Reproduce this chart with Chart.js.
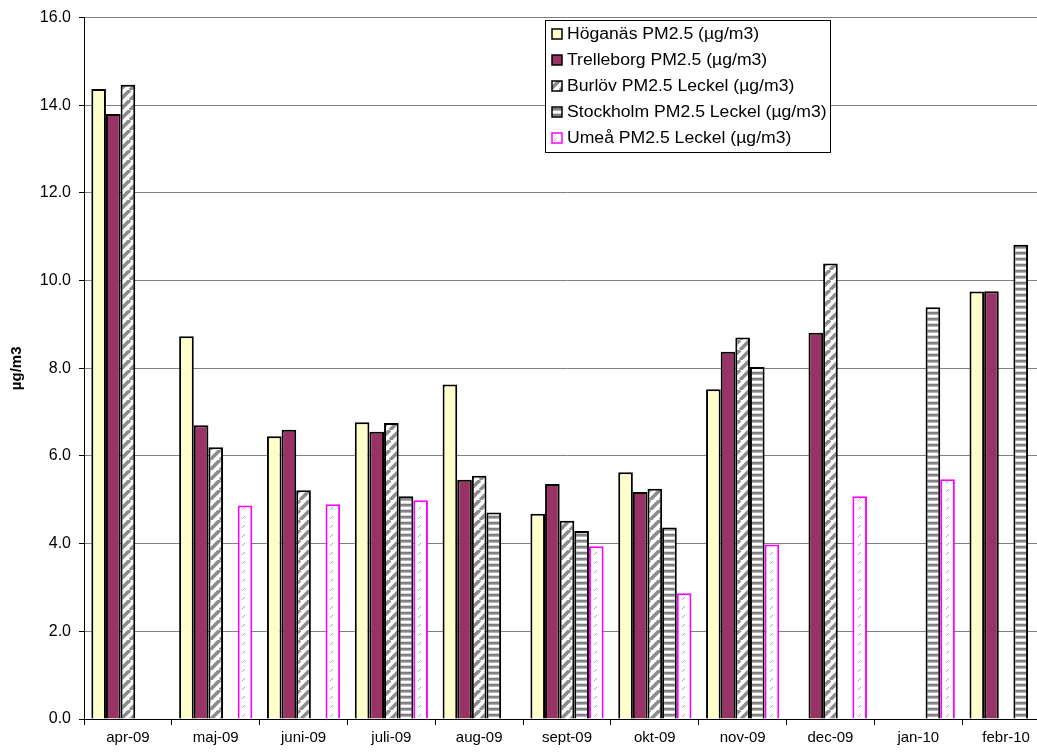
<!DOCTYPE html>
<html>
<head>
<meta charset="utf-8">
<script src="https://cdn.jsdelivr.net/npm/chart.js@4/dist/chart.umd.min.js"></script>
<style>
  html, body { margin: 0; padding: 0; background: #fff; overflow: hidden; }
  #wrap { width: 1060px; height: 755px; }
</style>
</head>
<body>
<div id="wrap"><canvas id="c" width="1060" height="755"></canvas></div>
<script>
const categories = ['apr-09','maj-09','juni-09','juli-09','aug-09','sept-09','okt-09','nov-09','dec-09','jan-10','febr-10'];
const hoganas    = [14.37, 8.73, 6.45, 6.77, 7.63, 4.68, 5.63, 7.52, null, null, 9.75];
const trelleborg = [13.80, 6.70, 6.60, 6.55, 5.46, 5.36, 5.18, 8.38, 8.81, null, 9.76];
const burlov     = [14.47, 6.20, 5.22, 6.75, 5.55, 4.52, 5.25, 8.70, 10.39, null, null];
const stockholm  = [null, null, null, 5.08, 4.71, 4.29, 4.37, 8.03, null, 9.39, 10.82];
const umea       = [null, 4.87, 4.90, 4.99, null, 3.94, 2.87, 3.98, 5.08, 5.47, null];
const seriesLabels = [
  'Höganäs PM2.5 (µg/m3)',
  'Trelleborg PM2.5 (µg/m3)',
  'Burlöv PM2.5 Leckel (µg/m3)',
  'Stockholm PM2.5 Leckel (µg/m3)',
  'Umeå PM2.5 Leckel (µg/m3)'
];
const yTicks = [0, 2, 4, 6, 8, 10, 12, 14, 16];

function diagPattern() {
  const s = 10;
  const c = document.createElement('canvas'); c.width = s; c.height = s;
  const g = c.getContext('2d');
  g.fillStyle = '#ffffff'; g.fillRect(0, 0, s, s);
  g.strokeStyle = '#8c8c8c'; g.lineWidth = 3.6;
  for (const o of [-s, 0, s]) {
    g.beginPath(); g.moveTo(o, s); g.lineTo(o + s, 0); g.stroke();
  }
  return g.createPattern(c, 'repeat');
}
function horizPattern() {
  const c = document.createElement('canvas'); c.width = 4; c.height = 6;
  const g = c.getContext('2d');
  const rows = ['#7a7a7a', '#8a8a8a', '#b0b0b0', '#ffffff', '#ffffff', '#d8d8d8'];
  rows.forEach((col, i) => { g.fillStyle = col; g.fillRect(0, i, 4, 1); });
  return g.createPattern(c, 'repeat');
}
function dashPattern() {
  const c = document.createElement('canvas'); c.width = 8; c.height = 9;
  const g = c.getContext('2d');
  g.fillStyle = '#ffffff'; g.fillRect(0, 0, 8, 9);
  g.strokeStyle = '#a8a8a8'; g.lineWidth = 1;
  g.beginPath(); g.moveTo(2, 6); g.lineTo(5, 3); g.stroke();
  return g.createPattern(c, 'repeat');
}

const fills = ['#FFFFCC', '#993366', diagPattern(), horizPattern(), dashPattern()];
const borders = ['#000000', '#000000', '#000000', '#000000', '#FF00FF'];
const seriesData = [hoganas, trelleborg, burlov, stockholm, umea];

const datasets = seriesData.map((d, i) => ({
  label: seriesLabels[i],
  data: d,
  backgroundColor: fills[i],
  borderColor: borders[i],
  borderWidth: 2,
  categoryPercentage: 5 / 6,
  barPercentage: 1.0
}));

const legendPlugin = {
  id: 'boxLegend',
  afterDraw(chart) {
    const ctx = chart.ctx;
    ctx.save();
    const x = 545.5, y = 20.5, w = 285, h = 132;
    ctx.fillStyle = '#fff';
    ctx.fillRect(x, y, w, h);
    ctx.strokeStyle = '#000'; ctx.lineWidth = 1;
    ctx.strokeRect(x, y, w, h);
    ctx.font = '16px "Liberation Sans", Arial, sans-serif';
    ctx.textBaseline = 'middle';
    ctx.textAlign = 'left';
    chart.data.datasets.forEach((ds, i) => {
      const cy = 34 + i * 26;
      ctx.fillStyle = ds.backgroundColor;
      ctx.fillRect(552, cy - 5, 10, 10);
      ctx.strokeStyle = ds.borderColor; ctx.lineWidth = 1.5;
      ctx.strokeRect(552, cy - 5, 10, 10);
      ctx.fillStyle = '#000';
      ctx.save();
      ctx.translate(567, cy + 1);
      ctx.scale(1.1, 1);
      ctx.fillText(ds.label, 0, 0);
      ctx.restore();
    });
    ctx.restore();
  }
};

new Chart(document.getElementById('c'), {
  type: 'bar',
  data: { labels: categories, datasets },
  plugins: [legendPlugin],
  options: {
    responsive: false,
    animation: false,
    devicePixelRatio: 1,
    layout: { padding: { top: 16, right: 10, bottom: 0, left: 0 } },
    plugins: { legend: { display: false }, tooltip: { enabled: false } },
    scales: {
      x: {
        offset: true,
        grid: { display: true, offset: true, drawOnChartArea: false, color: '#000', tickColor: '#000', tickLength: 6 },
        border: { display: true, color: '#000', width: 1 },
        ticks: { color: '#000', padding: 4, maxRotation: 0, autoSkip: false,
                 font: { family: '"Liberation Sans", Arial, sans-serif', size: 15 } },
        afterFit(scale) { scale.height = 36; }
      },
      y: {
        min: 0, max: 16,
        afterBuildTicks(scale) { scale.ticks = yTicks.map(v => ({ value: v })); },
        grid: { color: '#808080', tickColor: '#000', tickLength: 5, lineWidth: 1 },
        border: { display: true, color: '#000', width: 1 },
        ticks: { color: '#000', padding: 8, callback: v => Number(v).toFixed(1),
                 font: { family: '"Liberation Sans", Arial, sans-serif', size: 16 } },
        title: { display: true, text: 'µg/m3', color: '#000', padding: { top: 8, bottom: 0 },
                 font: { family: '"Liberation Sans", Arial, sans-serif', size: 15, weight: 'bold' } },
        afterFit(scale) { scale.width = 84; }
      }
    }
  }
});
</script>
</body>
</html>
